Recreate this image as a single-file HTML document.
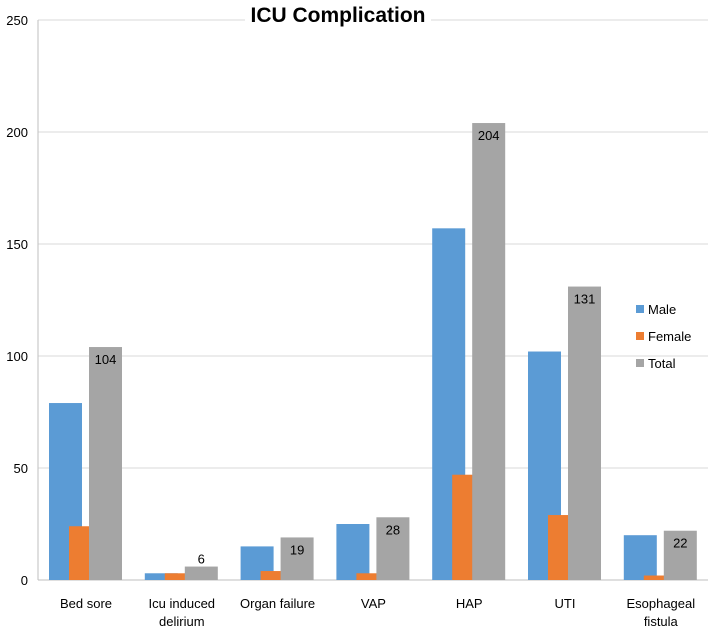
<!DOCTYPE html>
<html><head><meta charset="utf-8"><style>
body{margin:0;background:#fff;font-family:"Liberation Sans",sans-serif}
svg{display:block}
</style></head><body>
<svg id="c" width="709" height="628" font-family="Liberation Sans, sans-serif">
<g id="grid"></g><g id="bars"></g><g id="labels"></g>
<rect x="245" y="2" width="186" height="26" fill="#fff"/>
<text x="338" y="22" text-anchor="middle" font-size="21" font-weight="bold" fill="#000">ICU Complication</text>
</svg>
<script>
const categories=[["Bed sore"],["Icu induced","delirium"],["Organ failure"],["VAP"],["HAP"],["UTI"],["Esophageal","fistula"]];
const male=[79,3,15,25,157,102,20];
const female=[24,3,4,3,47,29,2];
const total=[104,6,19,28,204,131,22];
const yTicks=[0,50,100,150,200,250];
const seriesNames=["Male","Female","Total"];
const colors=["#5b9bd5","#ed7d31","#a5a5a5"];
const NS="http://www.w3.org/2000/svg";
const x0=38,gw=95.8,bw=33;
const y=v=>580-v*2.24;
function mk(tag,attrs,parent,txt){const e=document.createElementNS(NS,tag);for(const k in attrs)e.setAttribute(k,attrs[k]);if(txt!==undefined)e.textContent=txt;document.getElementById(parent).appendChild(e);return e;}
yTicks.forEach(t=>{
  const l=mk('line',{x1:x0,x2:708,y1:y(t),y2:y(t),stroke:t===0?'#bfbfbf':'#d9d9d9','stroke-width':1},'grid');
  
  
  const tx=mk('text',{x:28,y:y(t)+5,'text-anchor':'end','font-size':13,fill:'#000'},'grid',t);
  
  
});
const ax=mk('line',{x1:x0,x2:x0,y1:y(250),y2:580,stroke:'#bfbfbf'},'grid');


[male,female,total].forEach((s,si)=>{
  s.forEach((v,i)=>{
    const bx=x0+i*gw+11+si*20;
    const r=mk('rect',{x:bx,y:y(v),width:bw,height:580-y(v),fill:colors[si]},'bars');
    
    
  });
});
total.forEach((v,i)=>{
  const h=580-y(v);
  const ly=h<20?y(v)-3:y(v)+17;
  const t=mk('text',{x:x0+i*gw+51+bw/2,y:ly,'text-anchor':'middle','font-size':13,fill:'#000'},'labels',v);
  
  
});
categories.forEach((c,i)=>{
  c.forEach((line,j)=>{
    const t=mk('text',{x:x0+i*gw+48,y:608+j*18,'text-anchor':'middle','font-size':13,fill:'#000'},'labels',line);
    
    
  });
});
seriesNames.forEach((n,i)=>{
  const r=mk('rect',{x:636,y:305+i*27,width:8,height:8,fill:colors[i]},'labels');
  
  
  const t=mk('text',{x:648,y:314+i*27,'font-size':13,fill:'#000'},'labels',n);
  
  
});
</script>
</body></html>
